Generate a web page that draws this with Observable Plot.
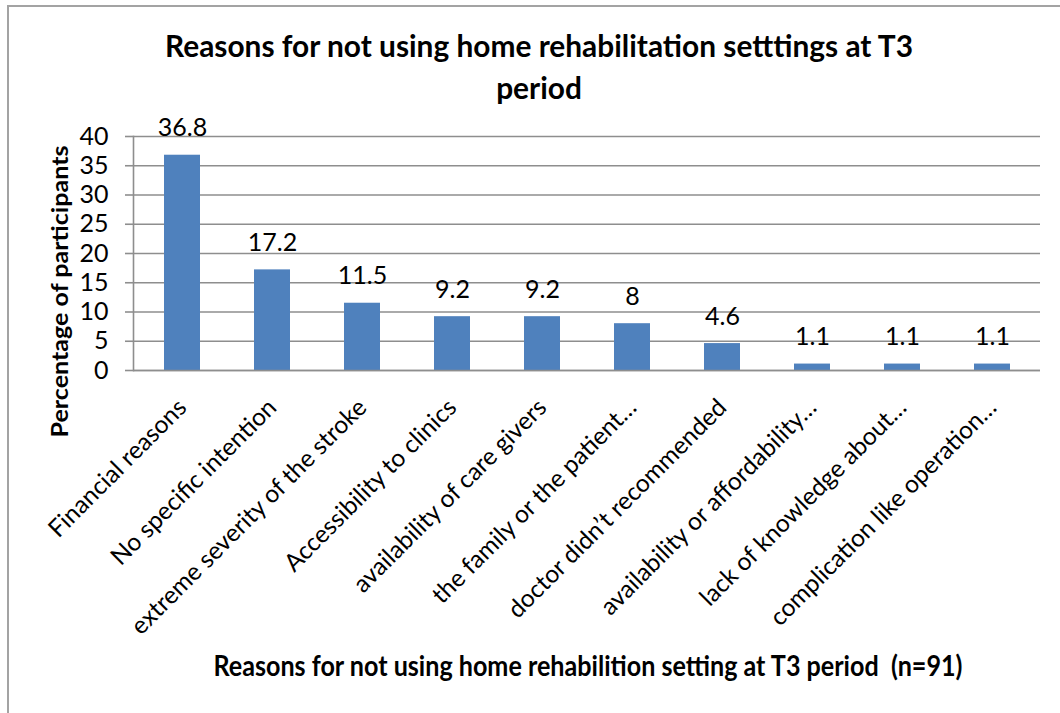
<!DOCTYPE html>
<html>
<head>
<meta charset="utf-8">
<script src="https://cdn.jsdelivr.net/npm/d3@7"></script>
<script src="https://cdn.jsdelivr.net/npm/@observablehq/plot@0.6"></script>
<style>
  html, body { margin: 0; padding: 0; background: #fff; }
  body { width: 1060px; height: 713px; position: relative; overflow: hidden; font-family: Lato, "Liberation Sans", Arial, sans-serif; }
  #frame { position: absolute; left: 7px; top: 5px; width: 1100px; height: 800px; border: 2px solid #a3a3a3; box-sizing: border-box; }
  #chart { position: absolute; left: 0; top: 0; }
  .lbl { position: absolute; font-weight: bold; color: #000; white-space: nowrap; text-align: center; }
  #title { left: 39px; width: 1000px; top: 24px; font-size: 30px; line-height: 42px; transform-origin: 50% 50%; }
  #xlabel { left: 87.5px; width: 1000px; top: 651px; font-size: 28px; line-height: 28px; transform-origin: 50% 50%; }
  #ylabel { left: -141px; width: 400px; top: 279.5px; font-size: 23px; line-height: 23px; transform-origin: 50% 50%; }
  .inner { display: inline-block; }
</style>
</head>
<body>
<div id="frame"></div>
<div id="chart"></div>
<div id="title" class="lbl"><span class="inner" id="t1">Reasons for not using home rehabilitation setttings at T3</span><br><span class="inner">period</span></div>
<div id="ylabel" class="lbl"><span class="inner" id="yl">Percentage of participants</span></div>
<div id="xlabel" class="lbl"><span class="inner" id="xl">Reasons for not using home rehabilition setting at T3 period&nbsp;&nbsp;(n=91)</span></div>
<script>
const categories = [
  "Financial reasons",
  "No specific intention",
  "extreme severity of the stroke",
  "Accessibility to clinics",
  "availability of care givers",
  "the family or the patient…",
  "doctor didn’t recommended",
  "availability or affordability…",
  "lack of knowledge about…",
  "complication like operation…"
];
const values = [36.8, 17.2, 11.5, 9.2, 9.2, 8, 4.6, 1.1, 1.1, 1.1];
const yTicks = [0, 5, 10, 15, 20, 25, 30, 35, 40];

const data = categories.map((c, i) => ({cat: c, val: values[i]}));
const gray = "#8e8e8e";

const plot = Plot.plot({
  width: 1060,
  height: 713,
  marginTop: 136,
  marginBottom: 343,
  marginLeft: 133,
  marginRight: 20,
  style: {fontFamily: "Lato, 'Liberation Sans', Arial, sans-serif", color: "#000", background: "transparent"},
  x: {type: "band", domain: categories, paddingInner: 0.6, paddingOuter: 0.3},
  y: {domain: [0, 40]},
  marks: [
    Plot.gridY(yTicks, {stroke: gray, strokeOpacity: 1, strokeWidth: 1.6}),
    Plot.barY(data, {x: "cat", y: "val", fill: "#4f81bd"}),
    Plot.ruleY([0], {stroke: gray, strokeWidth: 1.6}),
    Plot.frame({anchor: "left", stroke: gray, strokeWidth: 1.6}),
    Plot.axisY({ticks: yTicks, tickSize: 8, tickPadding: 17, fontSize: 25, stroke: gray, strokeWidth: 1.6, label: null}),
    Plot.axisX({tickSize: 0, tickRotate: -45, fontSize: 24.5, label: null, tickPadding: 0, dx: 0, dy: 33}),
    Plot.text(data, {x: "cat", y: "val", text: d => String(d.val), lineAnchor: "bottom", dy: -19, fontSize: 25})
  ]
});
document.getElementById("chart").appendChild(plot);

function fit(spanId, boxId, target) {
  const w = document.getElementById(spanId).getBoundingClientRect().width;
  const box = document.getElementById(boxId);
  box.style.transform = "scaleX(" + (target / w) + ")";
}
fit("t1", "title", 748);
fit("xl", "xlabel", 749);
(function () {
  const w = document.getElementById("yl").getBoundingClientRect().width;
  document.getElementById("ylabel").style.transform = "rotate(-90deg) scaleX(" + (292 / w) + ")";
})();
</script>
</body>
</html>
